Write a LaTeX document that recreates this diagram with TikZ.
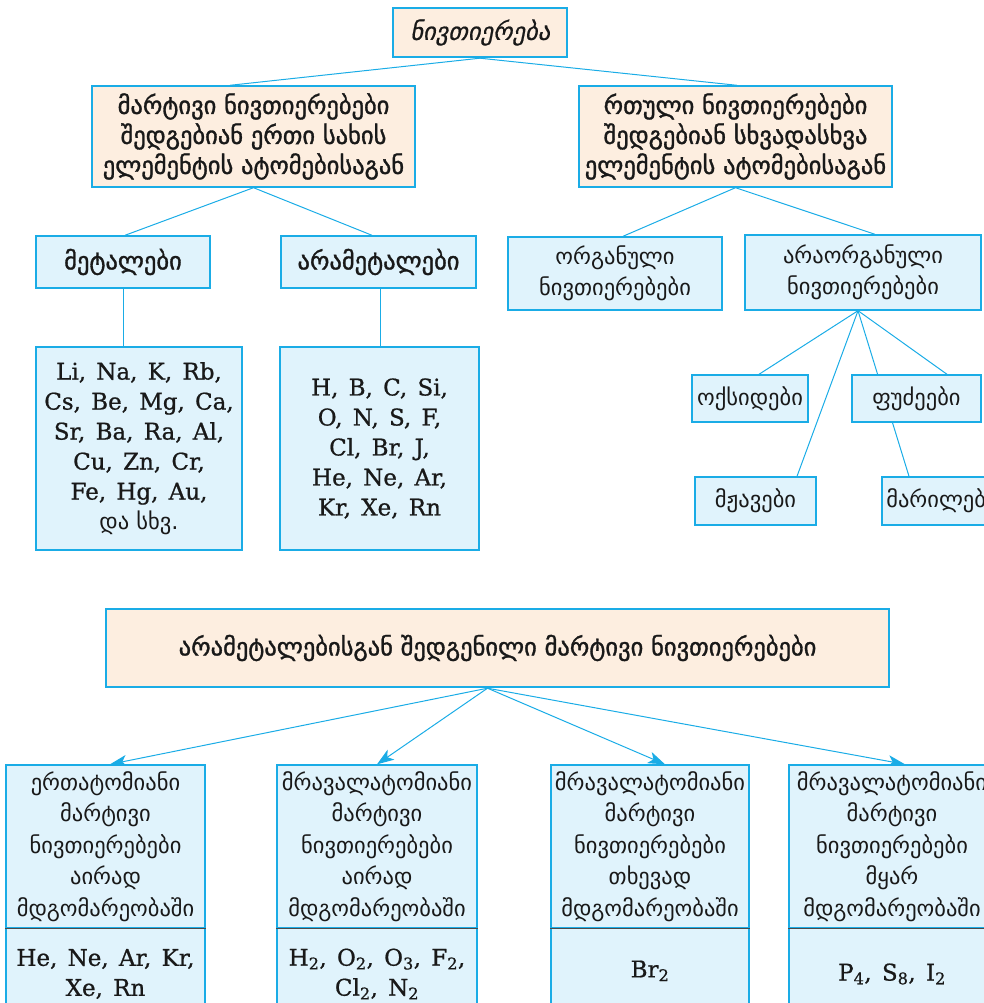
\documentclass[tikz,border=0pt]{standalone}
\usepackage{fontspec}
\setmainfont{DejaVu Serif}
\newfontfamily\geo{DejaVu Sans}
\newfontfamily\geob[FakeBold=1.3]{DejaVu Sans}
\newfontfamily\geoi[FakeSlant=0.2,FakeBold=0.6]{DejaVu Sans}
\newfontfamily\chem[WordSpace={1.4},FakeBold=0.8]{DejaVu Serif}
\usetikzlibrary{arrows.meta,backgrounds}
\definecolor{cyanb}{HTML}{1AACE6}
\definecolor{peach}{HTML}{FDEEE0}
\definecolor{lblue}{HTML}{E0F3FC}
\definecolor{divgray}{HTML}{4A4A4A}
\begin{document}
\begin{tikzpicture}[x=1pt,y=-1pt,
  box/.style={draw=cyanb, line width=1.4pt, inner sep=0pt, align=center, text=black!90},
  pbox/.style={box, fill=peach},
  bbox/.style={box, fill=lblue},
  thickbox/.style={line width=2.4pt},
  conn/.style={draw=cyanb, line width=1pt},
  arr/.style={conn, -{Stealth[length=17pt,width=12pt,inset=4.5pt]}},
  gb/.style={font=\geob\fontsize{24.5}{30}\selectfont},
  gr/.style={font=\geo\fontsize{22.5}{31.5}\selectfont},
  ch/.style={font=\chem\fontsize{23}{30}\selectfont}]
\useasboundingbox (0,0) rectangle (983,1003);

% top level
\node[pbox, thickbox, minimum width=174pt, minimum height=49pt, font=\geoi\fontsize{24.5}{30}\selectfont] (top) at (480,32.5) {ნივთიერება};
\node[pbox, gb, minimum width=323pt, minimum height=101pt] (L1) at (253.5,136.5)
  {მარტივი ნივთიერებები\\შედგებიან ერთი სახის\\ელემენტის ატომებისაგან};
\node[pbox, gb, minimum width=313pt, minimum height=101pt] (R1) at (735.5,136.5)
  {რთული ნივთიერებები\\შედგებიან სხვადასხვა\\ელემენტის ატომებისაგან};

% second level
\node[bbox, gb, minimum width=174pt, minimum height=52pt] (metal) at (123,262) {მეტალები};
\node[bbox, gb, minimum width=195pt, minimum height=52pt] (nonmetal) at (378.5,262) {არამეტალები};
\node[bbox, gr, minimum width=214pt, minimum height=73pt] (org) at (615,273.5) {ორგანული\\ნივთიერებები};
\node[bbox, gr, minimum width=236pt, minimum height=75pt] (inorg) at (863,272.5) {არაორგანული\\ნივთიერებები};

% element lists
\node[bbox, ch, minimum width=206pt, minimum height=203pt] (metlist) at (139,448.5)
  {Li, Na, K, Rb,\\Cs, Be, Mg, Ca,\\Sr, Ba, Ra, Al,\\Cu, Zn, Cr,\\Fe, Hg, Au,\\{\geo\fontsize{22.5}{30}\selectfont და სხვ.}};
\node[bbox, ch, minimum width=199pt, minimum height=203pt] (nonmetlist) at (379.5,448.5)
  {H, B, C, Si,\\O, N, S, F,\\Cl, Br, J,\\He, Ne, Ar,\\Kr, Xe, Rn};

% inorganic classes
\node[bbox, gr, minimum width=116pt, minimum height=47pt] (oxide) at (750,398.5) {ოქსიდები};
\node[bbox, gr, minimum width=129pt, minimum height=47pt] (base) at (916.5,398.5) {ფუძეები};
\node[bbox, gr, minimum width=121pt, minimum height=48pt] (acid) at (755.5,501) {მჟავები};
\node[bbox, gr, minimum width=120pt, minimum height=48pt] (salt) at (942,501) {მარილები};

% bottom tree
\node[pbox, thickbox, gb, minimum width=783pt, minimum height=78pt] (big) at (497.5,648)
  {არამეტალებისგან შედგენილი მარტივი ნივთიერებები};

\node[bbox, gr, minimum width=199pt, minimum height=163pt] (b1) at (105.5,846.5)
  {ერთატომიანი\\მარტივი\\ნივთიერებები\\აირად\\მდგომარეობაში};
\node[bbox, ch, minimum width=199pt, minimum height=92pt] (b1f) at (105.5,974)
  {He, Ne, Ar, Kr,\\Xe, Rn};
\node[bbox, gr, minimum width=200pt, minimum height=163pt] (b2) at (377,846.5)
  {მრავალატომიანი\\მარტივი\\ნივთიერებები\\აირად\\მდგომარეობაში};
\node[bbox, ch, minimum width=200pt, minimum height=92pt] (b2f) at (377,974)
  {H\textsubscript{2}, O\textsubscript{2}, O\textsubscript{3}, F\textsubscript{2},\\Cl\textsubscript{2}, N\textsubscript{2}};
\node[bbox, gr, minimum width=198pt, minimum height=163pt] (b3) at (650,846.5)
  {მრავალატომიანი\\მარტივი\\ნივთიერებები\\თხევად\\მდგომარეობაში};
\node[bbox, ch, minimum width=198pt, minimum height=92pt] (b3f) at (650,974)
  {\raisebox{10pt}{Br\textsubscript{2}}};
\node[bbox, gr, minimum width=206pt, minimum height=163pt] (b4) at (892,846.5)
  {მრავალატომიანი\\მარტივი\\ნივთიერებები\\მყარ\\მდგომარეობაში};
\node[bbox, ch, minimum width=206pt, minimum height=92pt] (b4f) at (892,974)
  {P\textsubscript{4}, S\textsubscript{8}, I\textsubscript{2}};

\foreach \n in {b1,b2,b3,b4}
  \draw[divgray, line width=1pt] (\n.south west) -- (\n.south east);

\begin{pgfonlayer}{background}
  \draw[conn] (top.south) -- ([xshift=-23.5pt]L1.north);
  \draw[conn] (top.south) -- ([xshift=1.5pt]R1.north);
  \draw[conn] (L1.south) -- ([xshift=2pt]metal.north);
  \draw[conn] (L1.south) -- ([xshift=-6.5pt]nonmetal.north);
  \draw[conn] (metal.south) -- (metal.south |- metlist.north);
  \draw[conn] ([xshift=2pt]nonmetal.south) -- ([xshift=2pt]nonmetal.south |- nonmetlist.north);
  \draw[conn] (R1.south) -- ([xshift=8pt]org.north);
  \draw[conn] (R1.south) -- ([xshift=12pt]inorg.north);
  \coordinate (ap) at ([xshift=-5pt]inorg.south);
  \draw[conn] (ap) -- ([xshift=9pt]oxide.north);
  \draw[conn] (ap) -- ([xshift=41.5pt]acid.north);
  \draw[conn] (ap) -- ([xshift=30.5pt]base.north);
  \draw[conn] (ap) -- ([xshift=-33pt]salt.north);
  \coordinate (bp) at ([xshift=-10pt]big.south);
  \draw[arr] (bp) -- ([xshift=4.5pt]b1.north);
  \draw[arr] (bp) -- (b2.north);
  \draw[arr] (bp) -- ([xshift=15pt]b3.north);
  \draw[arr] (bp) -- ([xshift=13pt]b4.north);
\end{pgfonlayer}
\end{tikzpicture}
\end{document}
